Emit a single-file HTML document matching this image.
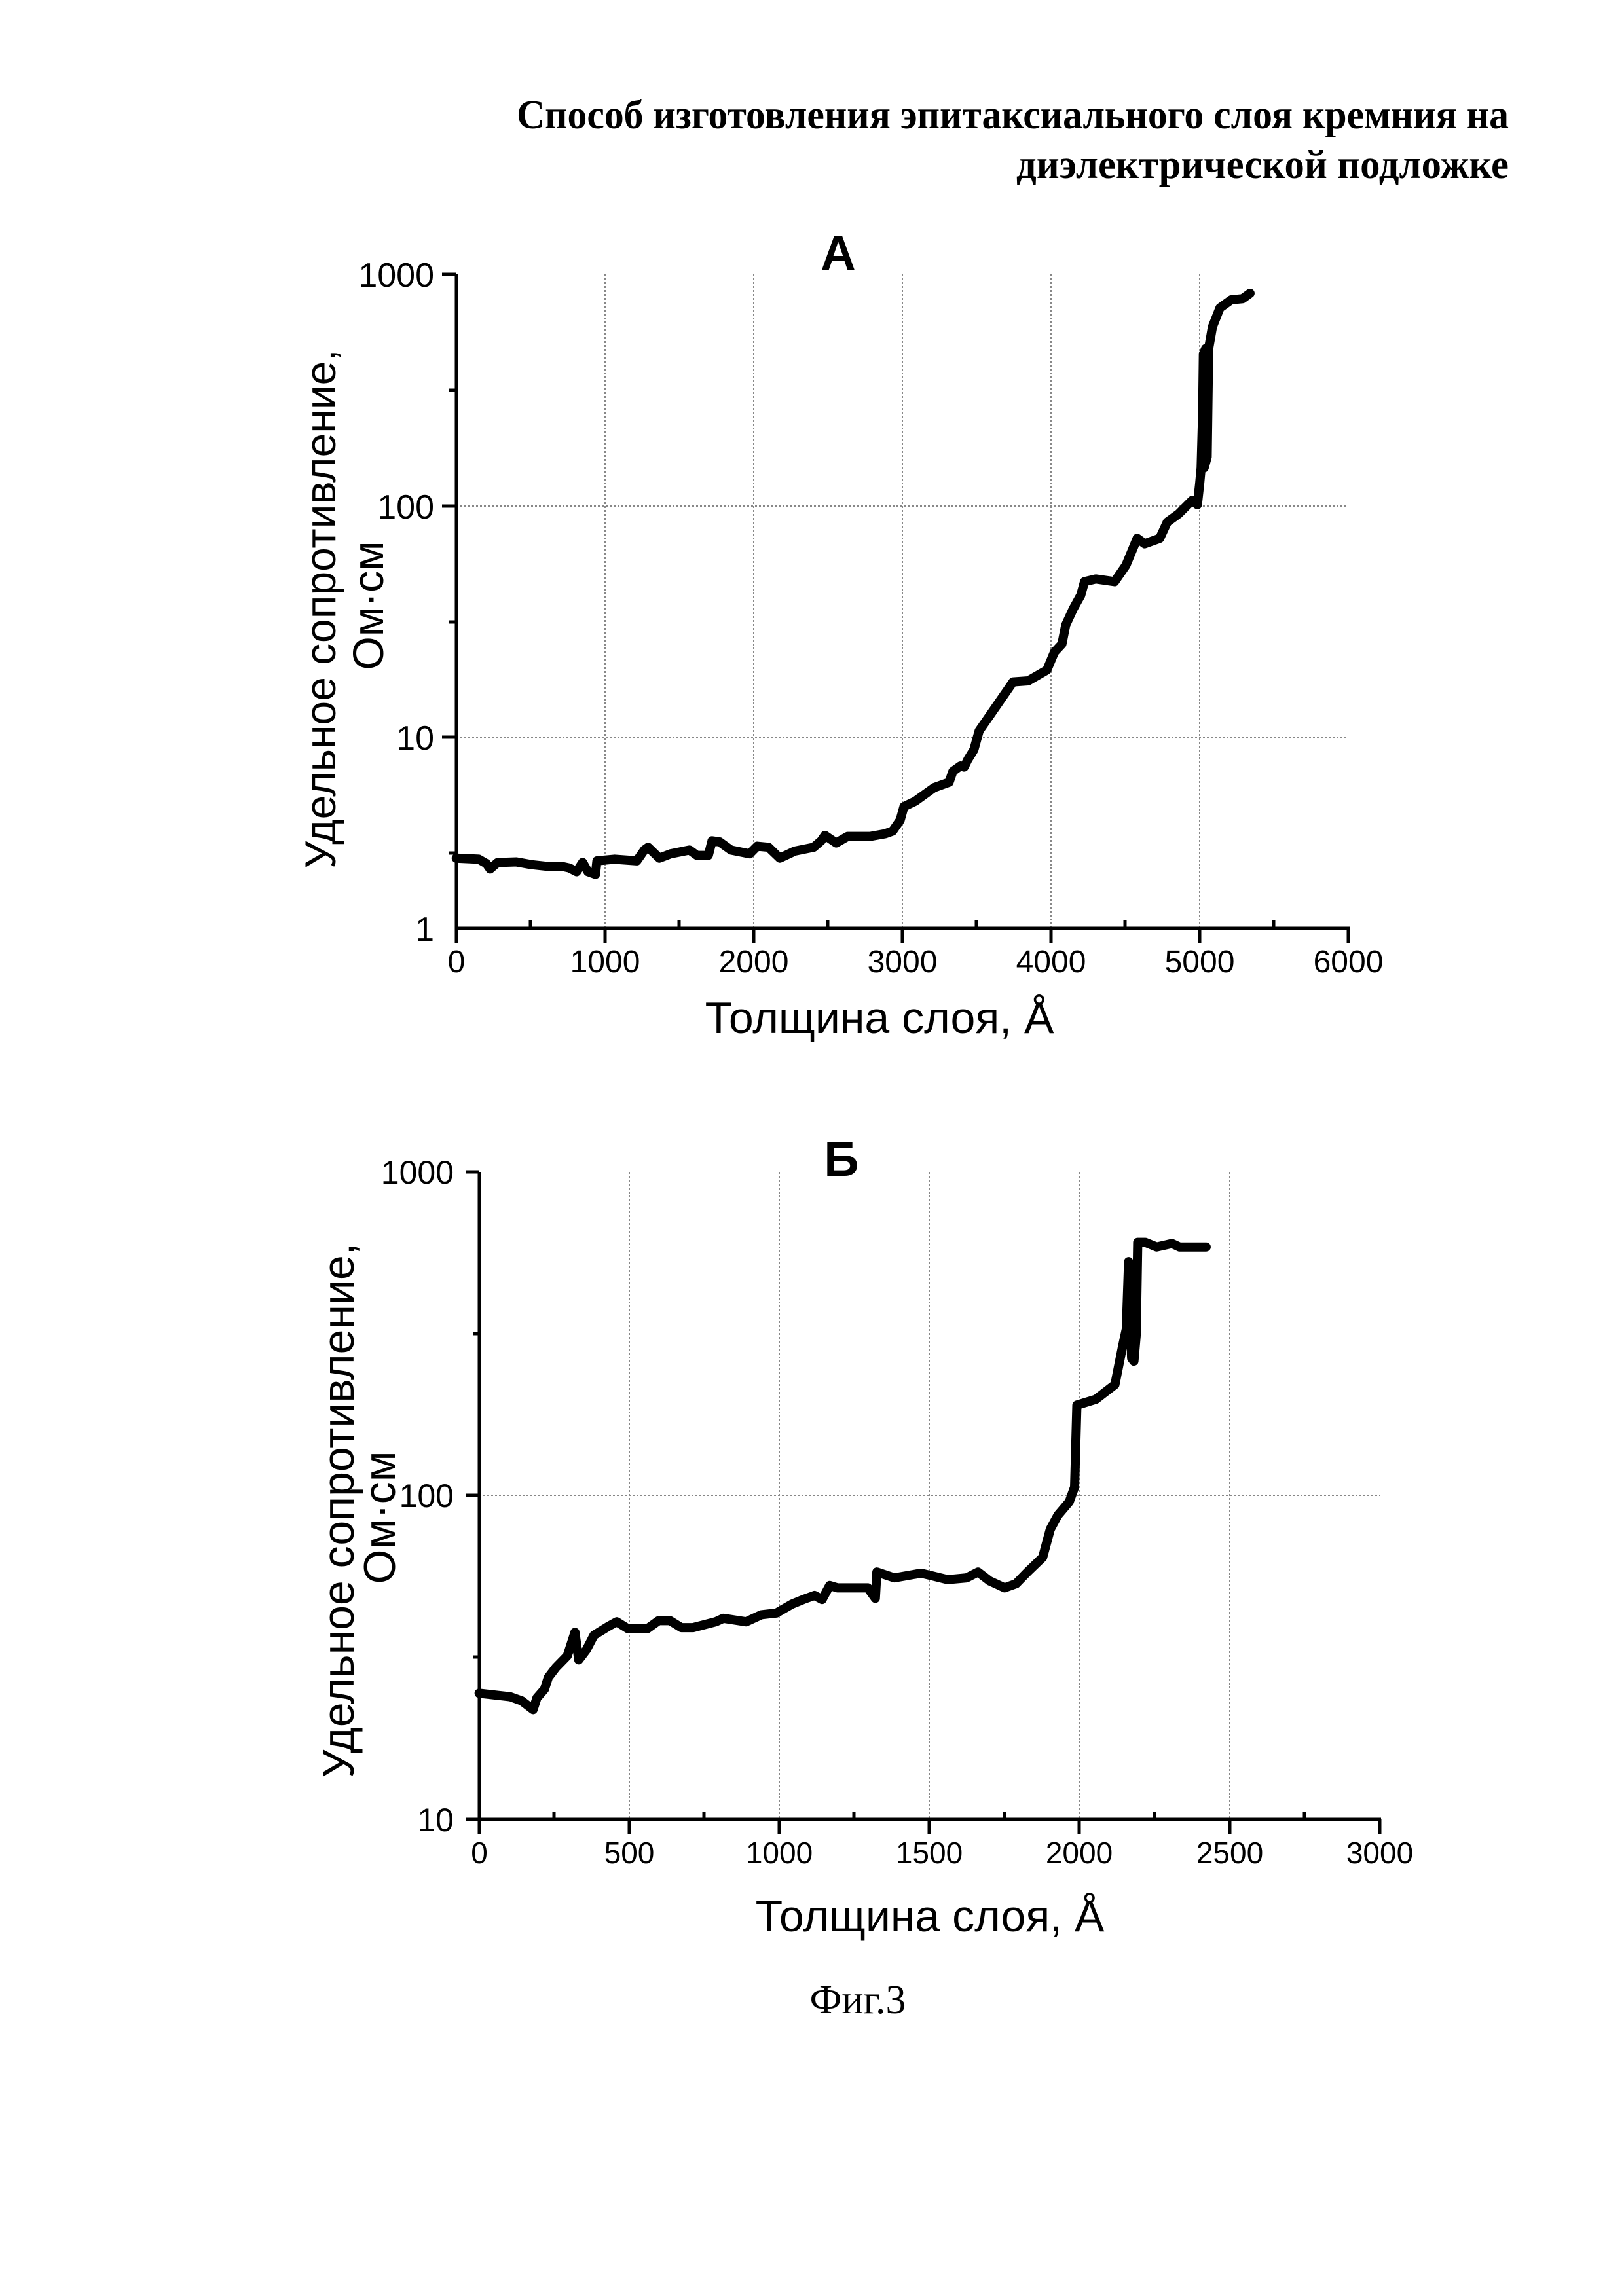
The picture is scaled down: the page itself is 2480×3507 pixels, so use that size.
<!DOCTYPE html>
<html><head><meta charset="utf-8"><style>html,body{margin:0;padding:0;background:#fff}svg{display:block}</style></head>
<body>
<svg width="2480" height="3507" viewBox="0 0 2480 3507" xmlns="http://www.w3.org/2000/svg" font-family="'Liberation Sans', Arial, sans-serif">
<rect width="2480" height="3507" fill="#fff"/>
<g font-family="'Liberation Serif','Times New Roman',serif" font-weight="bold" font-size="62" text-anchor="end">
<text x="2304" y="196" textLength="1515" lengthAdjust="spacingAndGlyphs">Способ изготовления эпитаксиального слоя кремния на</text>
<text x="2304" y="272" textLength="752" lengthAdjust="spacingAndGlyphs">диэлектрической подложке</text>
</g>

<!-- Chart A -->
<g stroke="#888" stroke-width="2" stroke-dasharray="3,3" fill="none">
<line x1="924" y1="419" x2="924" y2="1418"/><line x1="1151" y1="419" x2="1151" y2="1418"/>
<line x1="1378" y1="419" x2="1378" y2="1418"/><line x1="1605" y1="419" x2="1605" y2="1418"/>
<line x1="1832" y1="419" x2="1832" y2="1418"/>
<line x1="697" y1="773" x2="2059" y2="773"/><line x1="697" y1="1126" x2="2059" y2="1126"/>
</g>
<g stroke="#000" stroke-width="5" fill="none">
<line x1="697" y1="419" x2="697" y2="1420"/><line x1="695" y1="1418" x2="2061" y2="1418"/>
<line x1="675" y1="419" x2="697" y2="419"/><line x1="675" y1="773" x2="697" y2="773"/><line x1="675" y1="1126" x2="697" y2="1126"/>
<line x1="685" y1="596" x2="697" y2="596"/><line x1="685" y1="950" x2="697" y2="950"/><line x1="685" y1="1303" x2="697" y2="1303"/>
<line x1="697" y1="1418" x2="697" y2="1440"/><line x1="924" y1="1418" x2="924" y2="1440"/><line x1="1151" y1="1418" x2="1151" y2="1440"/><line x1="1378" y1="1418" x2="1378" y2="1440"/><line x1="1605" y1="1418" x2="1605" y2="1440"/><line x1="1832" y1="1418" x2="1832" y2="1440"/><line x1="2059" y1="1418" x2="2059" y2="1440"/>
<line x1="810" y1="1418" x2="810" y2="1406"/><line x1="1037" y1="1418" x2="1037" y2="1406"/><line x1="1264" y1="1418" x2="1264" y2="1406"/><line x1="1491" y1="1418" x2="1491" y2="1406"/><line x1="1718" y1="1418" x2="1718" y2="1406"/><line x1="1945" y1="1418" x2="1945" y2="1406"/>
</g>
<g font-size="52" text-anchor="end">
<text x="663" y="438">1000</text><text x="663" y="792">100</text><text x="663" y="1145">10</text><text x="663" y="1437">1</text>
</g>
<g font-size="48" text-anchor="middle">
<text x="697" y="1485">0</text><text x="924" y="1485">1000</text><text x="1151" y="1485">2000</text><text x="1378" y="1485">3000</text><text x="1605" y="1485">4000</text><text x="1832" y="1485">5000</text><text x="2059" y="1485">6000</text>
</g>
<text x="1280" y="412" font-size="74" font-weight="bold" text-anchor="middle">А</text>
<text x="1343" y="1578" font-size="68" text-anchor="middle">Толщина слоя, Å</text>
<g font-size="66" text-anchor="middle">
<text transform="translate(512,930) rotate(-90)">Удельное сопротивление,</text>
<text transform="translate(585,925) rotate(-90)">Ом·см</text>
</g>
<g transform="translate(398,300.6) scale(1.149,0.828)">
<polyline vector-effect="non-scaling-stroke" fill="none" stroke="#000" stroke-width="14" stroke-linejoin="round" stroke-linecap="round"
points="260,1220 290,1222 300,1230 305,1240 315,1228 340,1227 360,1232 380,1235 400,1235 410,1238 420,1245 428,1228 435,1245 445,1250 447,1225 470,1222 500,1225 510,1205 515,1200 530,1220 545,1212 570,1205 580,1215 595,1215 600,1188 610,1190 625,1205 650,1212 660,1198 675,1200 690,1220 710,1207 735,1200 745,1188 750,1178 765,1192 780,1180 810,1180 830,1175 840,1170 850,1150 855,1125 870,1115 895,1090 915,1080 920,1060 930,1050 935,1052 940,1038 948,1020 955,985 970,955 995,905 1000,895 1020,893 1030,885 1045,873 1055,840 1065,825 1070,790 1080,760 1090,735 1095,710 1110,705 1135,710 1150,680 1165,630 1175,640 1195,630 1205,600 1220,585 1238,560 1245,568 1248,530 1250,500 1252,400 1253,290 1256,280 1254,500 1258,480 1260,280 1265,240 1275,205 1290,190 1305,188 1315,178"/>
</g>

<!-- Chart B -->
<g stroke="#888" stroke-width="2" stroke-dasharray="3,3" fill="none">
<line x1="961" y1="1790" x2="961" y2="2779"/><line x1="1190" y1="1790" x2="1190" y2="2779"/>
<line x1="1419" y1="1790" x2="1419" y2="2779"/><line x1="1648" y1="1790" x2="1648" y2="2779"/>
<line x1="1878" y1="1790" x2="1878" y2="2779"/>
<line x1="732" y1="2284" x2="2107" y2="2284"/>
</g>
<g stroke="#000" stroke-width="5" fill="none">
<line x1="732" y1="1790" x2="732" y2="2801"/><line x1="711" y1="2779" x2="2109" y2="2779"/>
<line x1="711" y1="1790" x2="732" y2="1790"/><line x1="711" y1="2284" x2="732" y2="2284"/>
<line x1="722" y1="2037" x2="732" y2="2037"/><line x1="722" y1="2531" x2="732" y2="2531"/>
<line x1="961" y1="2779" x2="961" y2="2801"/><line x1="1190" y1="2779" x2="1190" y2="2801"/><line x1="1419" y1="2779" x2="1419" y2="2801"/><line x1="1648" y1="2779" x2="1648" y2="2801"/><line x1="1878" y1="2779" x2="1878" y2="2801"/><line x1="2107" y1="2779" x2="2107" y2="2801"/>
<line x1="846" y1="2779" x2="846" y2="2767"/><line x1="1075" y1="2779" x2="1075" y2="2767"/><line x1="1304" y1="2779" x2="1304" y2="2767"/><line x1="1534" y1="2779" x2="1534" y2="2767"/><line x1="1763" y1="2779" x2="1763" y2="2767"/><line x1="1992" y1="2779" x2="1992" y2="2767"/>
</g>
<g font-size="50" text-anchor="end">
<text x="693" y="1808">1000</text><text x="693" y="2302">100</text><text x="693" y="2797">10</text>
</g>
<g font-size="46" text-anchor="middle">
<text x="732" y="2846">0</text><text x="961" y="2846">500</text><text x="1190" y="2846">1000</text><text x="1419" y="2846">1500</text><text x="1648" y="2846">2000</text><text x="1878" y="2846">2500</text><text x="2107" y="2846">3000</text>
</g>
<text x="1285" y="1796" font-size="74" font-weight="bold" text-anchor="middle">Б</text>
<text x="1420" y="2950" font-size="68" text-anchor="middle">Толщина слоя, Å</text>
<g font-size="68" text-anchor="middle">
<text transform="translate(540,2307) rotate(-90)">Удельное сопротивление,</text>
<text transform="translate(603,2318) rotate(-90)">Ом·см</text>
</g>
<g transform="translate(396,1699) scale(1.1614,0.8945)">
<polyline vector-effect="non-scaling-stroke" fill="none" stroke="#000" stroke-width="14" stroke-linejoin="round" stroke-linecap="round"
points="289,992 330,998 345,1005 360,1020 365,1000 375,985 380,965 390,948 405,928 415,888 420,935 430,918 440,893 460,877 470,870 485,882 510,882 525,868 540,868 555,880 570,880 600,870 610,864 640,870 660,858 680,855 700,840 715,832 730,825 740,832 750,808 760,812 800,812 810,830 812,785 835,795 870,787 880,790 905,798 930,795 945,785 960,800 980,812 995,805 1010,785 1030,760 1040,712 1050,688 1065,665 1072,640 1075,500 1100,490 1125,465 1135,400 1140,370 1143,255 1147,420 1150,425 1153,380 1155,222 1165,222 1180,230 1200,224 1210,230 1245,230"/>
</g>

<text x="1310" y="3075" font-family="'Liberation Serif','Times New Roman',serif" font-size="62" text-anchor="middle">Фиг.3</text>
</svg>
</body></html>
